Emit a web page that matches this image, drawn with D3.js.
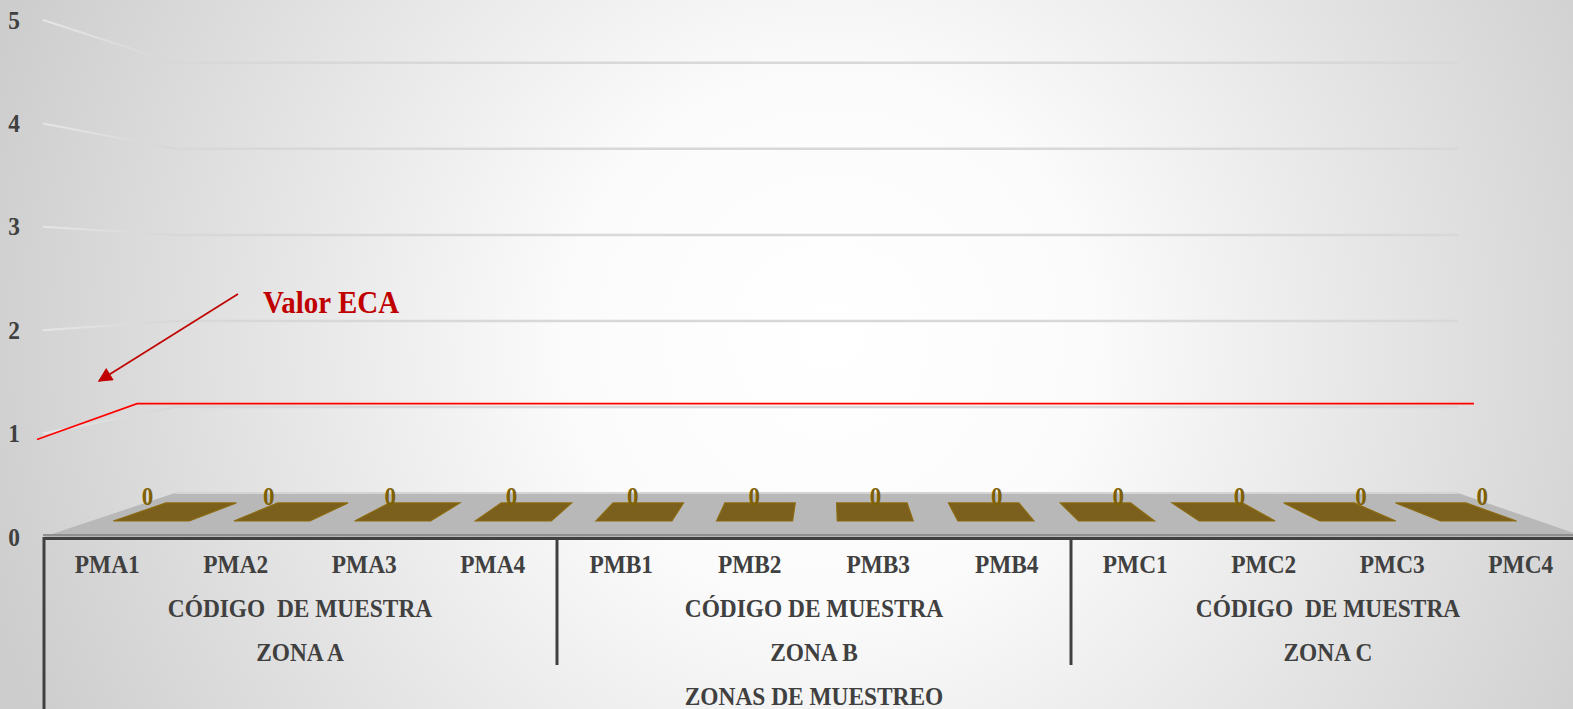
<!DOCTYPE html>
<html>
<head>
<meta charset="utf-8">
<script src="https://cdn.jsdelivr.net/npm/d3@7"></script>
<style>
  html, body { margin: 0; padding: 0; overflow: hidden; background: #ffffff; }
  svg { display: block; }
</style>
</head>
<body>
<svg id="chart" width="1573" height="709"></svg>
<script>
// ---- data ----
const samples = ["PMA1", "PMA2", "PMA3", "PMA4", "PMB1", "PMB2", "PMB3", "PMB4", "PMC1", "PMC2", "PMC3", "PMC4"];
const values = [0, 0, 0, 0, 0, 0, 0, 0, 0, 0, 0, 0];
const zones = ["ZONA A", "ZONA B", "ZONA C"];
const zoneSamples = [["PMA1", "PMA2", "PMA3", "PMA4"], ["PMB1", "PMB2", "PMB3", "PMB4"], ["PMC1", "PMC2", "PMC3", "PMC4"]];
const groupTitles = ["CÓDIGO  DE MUESTRA", "CÓDIGO DE MUESTRA", "CÓDIGO  DE MUESTRA"];
const axisTitle = "ZONAS DE MUESTREO";
const yTicks = [0, 1, 2, 3, 4, 5];
const ecaLimit = 1.05;
const ecaLabel = "Valor ECA";

// ---- layout ----
const W = 1573, H = 709;
const svg = d3.select("#chart");
const FONT = "'Liberation Serif', 'Times New Roman', serif";
const TEXT = "#404040";

// front plane scales (depth z = 0)
const x = d3.scaleBand().domain(samples).range([43, 1585]).padding(0);
const y = d3.scaleLinear().domain([0, 5]).range([537, 20]);

// simple perspective: points recede towards a vanishing point as depth grows
const vp = { x: 829, y: 275 };
const backScale = 0.832;
const k = 1 / backScale - 1;
function project(px, py, z) {
  const s = 1 / (1 + k * z);
  return [vp.x + (px - vp.x) * s, vp.y + (py - vp.y) * s];
}
const x0 = x.range()[0], x1 = x.range()[1];

// ---- background ----
const defs = svg.append("defs");
const bg = defs.append("radialGradient").attr("id", "bg")
  .attr("gradientUnits", "userSpaceOnUse")
  .attr("cx", 830).attr("cy", 340).attr("r", 880);
bg.append("stop").attr("offset", 0).attr("stop-color", "#ffffff");
bg.append("stop").attr("offset", 0.3).attr("stop-color", "#fbfbfb");
bg.append("stop").attr("offset", 1).attr("stop-color", "#cdcdcd");
svg.append("rect").attr("width", W).attr("height", H).attr("fill", "url(#bg)");

const sideGrad = defs.append("linearGradient").attr("id", "sideGrid")
  .attr("gradientUnits", "userSpaceOnUse")
  .attr("x1", x0).attr("x2", project(x0, 0, 1)[0]).attr("y1", 0).attr("y2", 0);
sideGrad.append("stop").attr("offset", 0).attr("stop-color", "#e6e6e6");
sideGrad.append("stop").attr("offset", 1).attr("stop-color", "#d6d6d6");

// ---- gridlines: side wall + back wall ----
const grid = svg.append("g");
yTicks.filter(v => v > 0).forEach(v => {
  const f = project(x0, y(v), 0), b = project(x0, y(v), 1), br = project(x1, y(v), 1);
  grid.append("line").attr("x1", f[0]).attr("y1", f[1]).attr("x2", b[0]).attr("y2", b[1])
    .attr("stroke", "url(#sideGrid)").attr("stroke-width", 2);
  grid.append("line").attr("x1", b[0]).attr("y1", b[1]).attr("x2", br[0]).attr("y2", br[1])
    .attr("stroke", "#d8d8d8").attr("stroke-width", 2.5);
});

// ---- floor ----
const floorPts = [project(x0, y(0), 0), project(x1, y(0), 0), project(x1, y(0), 1), project(x0, y(0), 1)];
svg.append("polygon").attr("points", floorPts.map(p => p.join(",")).join(" "))
  .attr("fill", "#b8b8b8");
const fb0 = project(x0, y(0), 1), fb1 = project(x1, y(0), 1);
svg.append("line").attr("x1", fb0[0]).attr("y1", fb0[1]).attr("x2", fb1[0]).attr("y2", fb1[1])
  .attr("stroke", "#d4d4d4").attr("stroke-width", 2);
svg.append("line").attr("x1", x0).attr("y1", y(0) - 2).attr("x2", W).attr("y2", y(0) - 2)
  .attr("stroke", "#8f8f8f").attr("stroke-width", 2);

// ---- bars (flat, value 0) ----
const barFrac = 0.63, zFront = 0.322, zBack = 0.74;
const bars = svg.append("g");
samples.forEach((s, i) => {
  const c = x(s) + x.bandwidth() / 2;
  const hw = x.bandwidth() * barFrac / 2;
  const top = y(values[i]);
  const pts = [project(c - hw, top, zFront), project(c + hw, top, zFront),
               project(c + hw, top, zBack), project(c - hw, top, zBack)];
  bars.append("polygon").attr("points", pts.map(p => p.join(",")).join(" "))
    .attr("fill", "#7b5f1d").attr("stroke", "#8c6b10").attr("stroke-width", 1.2);
});

// ---- text helper (serif, slightly tall) ----
function label(parent, px, py, str, o = {}) {
  const g = parent.append("g").attr("transform", `translate(${px},${py}) scale(1,${o.sy || 1.1})`);
  g.append("text")
    .attr("text-anchor", o.anchor || "middle")
    .attr("dy", "0.33em")
    .style("font-family", FONT).style("font-weight", "bold")
    .style("font-size", (o.size || 23.4) + "px")
    .style("white-space", "pre")
    .attr("fill", o.fill || TEXT)
    .text(str);
}

// value labels
const vlab = svg.append("g");
samples.forEach((s, i) => {
  const c = x(s) + x.bandwidth() / 2;
  const px = project(c, y(values[i]), zFront - 0.03)[0];
  const py = project(c, y(values[i]), zBack)[1] - 6;
  label(vlab, px, py, String(values[i]), { fill: "#7f6000", size: 23 });
});

// ---- value axis labels ----
const yl = svg.append("g");
yTicks.forEach(v => label(yl, 14, y(v), d3.format("d")(v)));

// ---- category axis (multi-level) ----
const ax = svg.append("g");
const lineCol = "#404040";
ax.append("line").attr("x1", x0).attr("x2", W).attr("y1", y(0) + 1.5).attr("y2", y(0) + 1.5)
  .attr("stroke", lineCol).attr("stroke-width", 3);
ax.append("line").attr("x1", x0 + 1).attr("x2", x0 + 1).attr("y1", y(0)).attr("y2", H)
  .attr("stroke", lineCol).attr("stroke-width", 3);
zoneSamples.slice(1).forEach(zs => {
  const xs = x(zs[0]);
  ax.append("line").attr("x1", xs).attr("x2", xs).attr("y1", y(0)).attr("y2", 665)
    .attr("stroke", lineCol).attr("stroke-width", 3);
});
const rowY = [564, 608, 652, 696];
samples.forEach(s => label(ax, x(s) + x.bandwidth() / 2, rowY[0], s));
zoneSamples.forEach((zs, i) => {
  const cx = (x(zs[0]) + x(zs[zs.length - 1]) + x.bandwidth()) / 2;
  label(ax, cx, rowY[1], groupTitles[i]);
  label(ax, cx, rowY[2], zones[i]);
});
label(ax, (x0 + x1) / 2, rowY[3], axisTitle);

// ---- ECA reference line and callout ----
const eca = svg.append("g");
const ecaBack = project(x0, y(ecaLimit), 1);
const ecaBackR = project(x1, y(ecaLimit), 1);
const ecaY = ecaBack[1] + 1;
eca.append("path")
  .attr("d", `M${x0 - 6},${y(ecaLimit) + 11} L${ecaBack[0] - 38},${ecaY} L${ecaBackR[0] + 16},${ecaY}`)
  .attr("fill", "none").attr("stroke", "#ff0000").attr("stroke-width", 1.6);

defs.append("marker").attr("id", "arrow").attr("viewBox", "0 0 10 10")
  .attr("refX", 9).attr("refY", 5).attr("markerWidth", 10).attr("markerHeight", 9)
  .attr("markerUnits", "strokeWidth").attr("orient", "auto")
  .append("path").attr("d", "M0,0 L10,5 L0,10 z").attr("fill", "#c00000");
eca.append("line").attr("x1", 238).attr("y1", 294).attr("x2", 99).attr("y2", 381)
  .attr("stroke", "#c00000").attr("stroke-width", 1.6).attr("marker-end", "url(#arrow)");
label(eca, 263, 302, ecaLabel, { anchor: "start", fill: "#c00000", size: 29, sy: 1.12 });
</script>
</body>
</html>
